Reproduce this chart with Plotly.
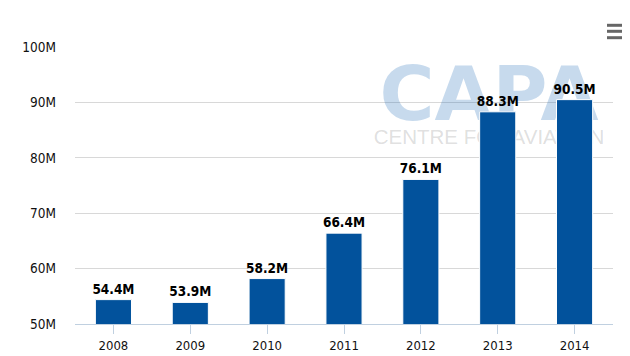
import plotly.graph_objects as go

# ---- data ----
years = ["2008", "2009", "2010", "2011", "2012", "2013", "2014"]
passengers_m = [54.4, 53.9, 58.2, 66.4, 76.1, 88.3, 90.5]
y_ticks = [50, 60, 70, 80, 90, 100]
y_tick_labels = ["50M", "60M", "70M", "80M", "90M", "100M"]
watermark_lines = ["CAPA", "CENTRE FOR AVIATION"]

W, H = 630, 356
L, R, T, B = 67, 25, 39, 40
PW, PH = W - L - R, H - T - B

def px_x(px):
    return (px - L) / PW

def px_y(py):
    return (H - B - py) / PH

FONT = "DejaVu Sans Condensed, DejaVu Sans, sans-serif"

fig = go.Figure()

# watermark (behind bars, on base axes)
fig.add_trace(go.Scatter(
    x=[px_x(481)], y=[px_y(93)], mode="text", text=["<b>" + watermark_lines[0] + "</b>"],
    textfont=dict(family="DejaVu Sans", size=75, color="rgba(20,100,180,0.24)"),
    hoverinfo="skip", showlegend=False, xaxis="x", yaxis="y"))
fig.add_trace(go.Scatter(
    x=[px_x(481)], y=[px_y(131)], mode="text", text=[watermark_lines[1]],
    textfont=dict(family="Liberation Sans", size=20.5, color="rgba(120,120,120,0.24)"),
    hoverinfo="skip", showlegend=False, xaxis="x", yaxis="y"))

fig.add_trace(go.Bar(
    x=years, y=passengers_m, xaxis="x2", yaxis="y2",
    marker=dict(color="#02529c", line=dict(color="#ffffff", width=1)),
    width=0.47,
    text=[f"<b>{v:.1f}M</b>" for v in passengers_m], texttemplate="%{text}",
    textposition="outside", cliponaxis=False, constraintext="none",
    textfont=dict(family=FONT, size=13.5, color="#000000"),
    showlegend=False))

fig.update_layout(
    width=W, height=H,
    margin=dict(l=L, r=R, t=T, b=B),
    paper_bgcolor="white", plot_bgcolor="white",
    xaxis=dict(range=[0, 1], visible=False, fixedrange=True),
    yaxis=dict(range=[0, 1], visible=False, fixedrange=True),
    xaxis2=dict(overlaying="x", anchor="y2", type="category",
                showline=True, linecolor="#C0D0E0", linewidth=1,
                ticks="outside", ticklen=9, tickcolor="#C0D0E0", tickwidth=1,
                showgrid=False, zeroline=False,
                tickfont=dict(family=FONT, size=13, color="#111111")),
    yaxis2=dict(overlaying="y", anchor="x2", range=[50, 100],
                tickmode="array", tickvals=y_ticks, ticktext=y_tick_labels,
                showgrid=True, gridcolor="#D8D8D8", gridwidth=1,
                zeroline=False, showline=False, ticks="",
                ticklabelstandoff=18,
                tickfont=dict(family=FONT, size=13.5, color="#111111")),
    bargap=0.53,
)

# export menu icon (hamburger)
for py in (17.3, 23.3, 29.7):
    fig.add_shape(type="line", xref="paper", yref="paper",
                  x0=px_x(599), x1=px_x(619), y0=px_y(py), y1=px_y(py),
                  line=dict(color="#666666", width=3))

fig.write_html("out.html")
